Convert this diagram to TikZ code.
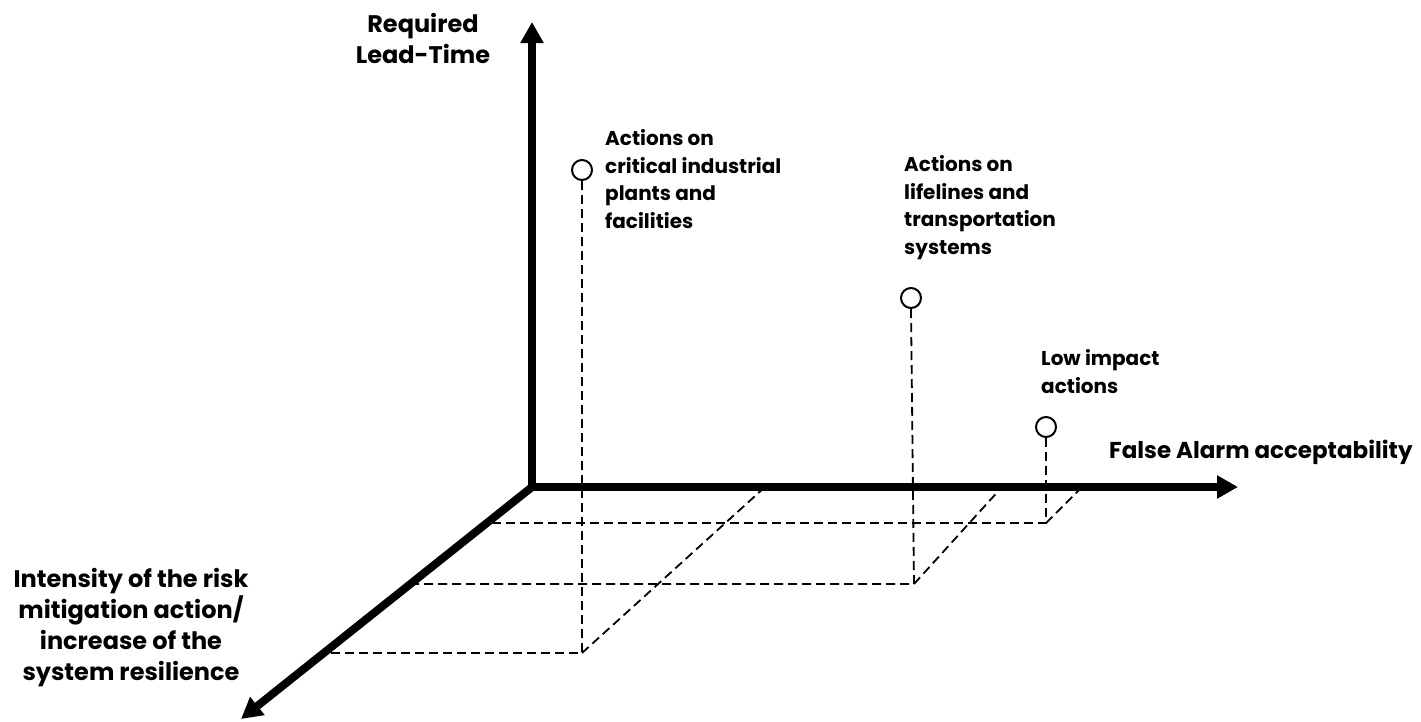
\documentclass[tikz,border=0pt]{standalone}
\usepackage{fontspec}
\setmainfont{Poppins}
\usetikzlibrary{arrows.meta}
\begin{document}
\begin{tikzpicture}[x=1pt,y=-1pt,
  axis/.style={line width=8pt, -{Triangle[length=21pt,width=22pt]}},
  guide/.style={line width=1.8pt, dash pattern=on 9pt off 5pt},
  dot/.style={circle, draw, line width=2pt, minimum size=20pt, inner sep=0pt},
  axislab/.style={font=\fontsize{24}{31}\selectfont\bfseries, inner sep=0pt, align=center},
  ptlab/.style={font=\fontsize{20}{27.5}\selectfont\bfseries, inner sep=0pt, align=left, anchor=base west}]
\useasboundingbox (0,0) rectangle (1421,721);
\fill[white] (0,0) rectangle (1421,721);
% key coordinates
\coordinate (O) at (532,487);
\coordinate (ytip) at (532,22);
\coordinate (xtip) at (1238,487);
\coordinate (ztip) at (241,719);
% points
\node[dot] (c1) at (582,170) {};
\node[dot] (c2) at (911,298) {};
\node[dot] (c3) at (1046,427) {};
\coordinate (p1) at (582,653);
\coordinate (p2) at (914,584);
\coordinate (p3) at (1046,523);
\coordinate (a1) at (323,653);
\coordinate (a2) at (410,584);
\coordinate (a3) at (487,523);
\coordinate (b1) at (765,487);
\coordinate (b2) at (1002,487);
\coordinate (b3) at (1082,487);
% guides
\draw[guide] (c1.south) -- (p1) -- (a1);
\draw[guide] (p1) -- (b1);
\draw[guide] (c2.south) -- (p2) -- (a2);
\draw[guide] (p2) -- (b2);
\draw[guide] (c3.south) -- (p3) -- (a3);
\draw[guide] (p3) -- (b3);
% axes
\draw[axis] (O) -- (ytip);
\draw[axis] (O) -- (xtip);
\draw[axis] ([shift={(4,-3.2)}]O) -- (ztip);
\fill (528,483) rectangle (536,491);
% labels (anchors at the baseline of the last line)
\node[axislab, anchor=base] (ylab) at (423,63) {Required\\Lead-Time};
\node[axislab, font=\fontsize{23}{31}\selectfont\bfseries, anchor=base west] (xlab) at (1109,458) {False Alarm acceptability};
\node[axislab, anchor=base] (zlab) at (131,680) {Intensity of the risk\\mitigation action/\\increase of the\\system resilience};
\node[ptlab] (t1) at (605,228) {Actions on\\critical industrial\\plants and\\facilities};
\node[ptlab] (t2) at (904,254) {Actions on\\lifelines and\\transportation\\systems};
\node[ptlab] (t3) at (1041,393) {Low impact\\actions};
\end{tikzpicture}
\end{document}
